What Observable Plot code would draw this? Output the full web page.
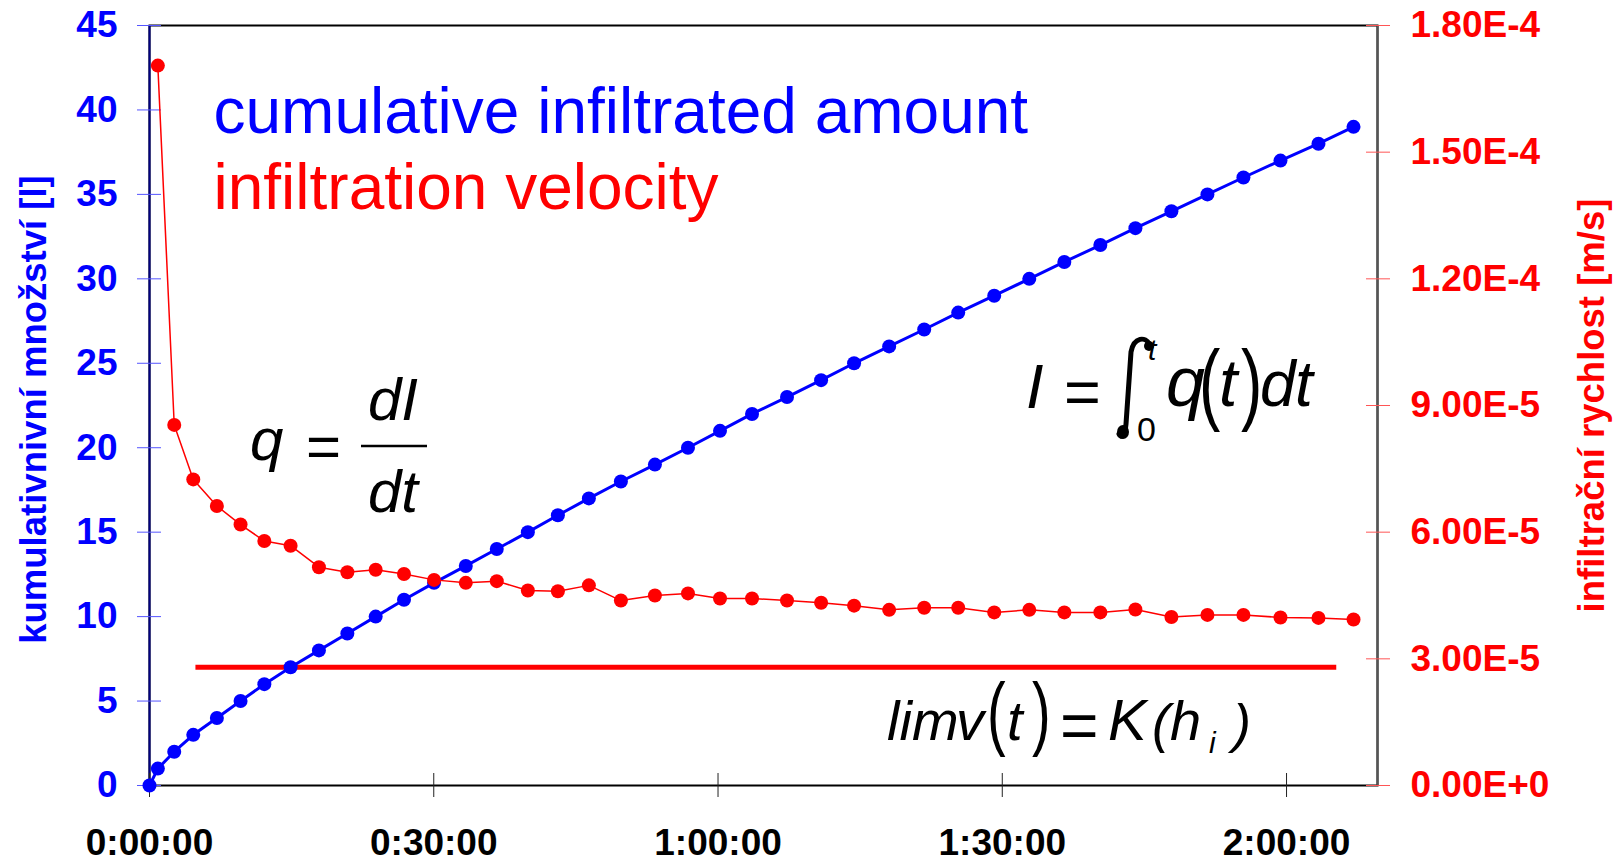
<!DOCTYPE html>
<html>
<head>
<meta charset="utf-8">
<script src="https://cdn.jsdelivr.net/npm/d3@7"></script>
<script src="https://cdn.jsdelivr.net/npm/@observablehq/plot@0.6"></script>
<style>
  html, body { margin: 0; padding: 0; background: #fff; }
  svg { display: block; }
</style>
</head>
<body>
<div id="chart"></div>
<script>
// ---- data (time in minutes since start) ----
const timeMin = [0, 0.88, 2.61, 4.62, 7.11, 9.61, 12.12, 14.89, 17.88, 20.88,
  23.87, 26.86, 30.03, 33.38, 36.65, 39.93, 43.10, 46.37, 49.75, 53.34,
  56.83, 60.21, 63.59, 67.28, 70.88, 74.36, 78.06, 81.76, 85.35, 89.15,
  92.85, 96.55, 100.35, 104.05, 107.85, 111.65, 115.45, 119.36, 123.37, 127.07];
const cumulativeL = [0, 1, 2, 3, 4, 5, 6, 7, 8, 9, 10, 11, 12, 13, 14, 15, 16, 17, 18, 19,
  20, 21, 22, 23, 24, 25, 26, 27, 28, 29, 30, 31, 32, 33, 34, 35, 36, 37, 38, 39];
// velocity [m/s] measured at timeMin[1..39]
const velocity = [1.705e-4, 8.54e-5, 7.25e-5, 6.62e-5, 6.18e-5, 5.79e-5, 5.68e-5, 5.17e-5, 5.05e-5, 5.11e-5,
  5.01e-5, 4.87e-5, 4.80e-5, 4.84e-5, 4.62e-5, 4.60e-5, 4.74e-5, 4.38e-5, 4.50e-5, 4.55e-5,
  4.43e-5, 4.43e-5, 4.38e-5, 4.33e-5, 4.26e-5, 4.16e-5, 4.21e-5, 4.21e-5, 4.10e-5, 4.16e-5,
  4.10e-5, 4.10e-5, 4.17e-5, 3.99e-5, 4.04e-5, 4.04e-5, 3.98e-5, 3.97e-5, 3.93e-5];
const limitK = [2.8e-5];
const limitSpanMin = [4.9, 125.3];

const xTicks = [0, 30, 60, 90, 120];
const xTickLabels = ["0:00:00", "0:30:00", "1:00:00", "1:30:00", "2:00:00"];
const leftTicks = [0, 5, 10, 15, 20, 25, 30, 35, 40, 45];
const rightTicks = [0, 3e-5, 6e-5, 9e-5, 1.2e-4, 1.5e-4, 1.8e-4];
const rightTickLabels = ["0.00E+0", "3.00E-5", "6.00E-5", "9.00E-5", "1.20E-4", "1.50E-4", "1.80E-4"];
const xDomain = [0, 129.6];
const leftDomain = [0, 45];
const rightDomain = [0, 1.8e-4];

// ---- derived ----
const vScale = leftDomain[1] / rightDomain[1];
const blueData = timeMin.map((t, i) => ({t, I: cumulativeL[i]}));
const redData = velocity.map((v, i) => ({t: timeMin[i + 1], v}));
const rightTicksScaled = rightTicks.map(v => v * vScale);

const BLUE = "#0000ff", RED = "#ff0000";
const FONT = "'Liberation Sans', Arial, Helvetica, sans-serif";

// annotation (formula) renderer: pieces of text, fraction bars, paths
function formula(pieces, bars = [], paths = [], blobs = []) {
  return () => {
    const g = d3.create("svg:g").attr("fill", "black").attr("font-family", FONT);
    for (const p of pieces) {
      g.append("text")
        .attr("transform", `translate(${p.x},${p.y}) scale(1,${p.sy || 1})`)
        .attr("font-size", p.s)
        .attr("font-style", p.i ? "italic" : "normal")
        .attr("text-anchor", p.a || "start")
        .text(p.t);
    }
    for (const b of bars) {
      g.append("line").attr("x1", b[0]).attr("x2", b[1]).attr("y1", b[2]).attr("y2", b[2])
        .attr("stroke", "black").attr("stroke-width", 2.5);
    }
    for (const d of paths) {
      g.append("path").attr("d", d).attr("fill", "none").attr("stroke", "black")
        .attr("stroke-width", 5).attr("stroke-linecap", "round");
    }
    for (const c of blobs) {
      g.append("ellipse").attr("cx", c[0]).attr("cy", c[1]).attr("rx", c[2]).attr("ry", c[3]);
    }
    return g.node();
  };
}

const chart = Plot.plot({
  width: 1614,
  height: 860,
  marginLeft: 149,
  marginRight: 237,
  marginTop: 25,
  marginBottom: 75,
  style: {fontFamily: FONT, background: "white", overflow: "visible"},
  x: {domain: xDomain},
  y: {domain: leftDomain},
  marks: [
    Plot.frame({stroke: "black", strokeWidth: 2}),
    Plot.ruleX([xDomain[0]], {stroke: "#000080", strokeWidth: 2}),
    Plot.ruleX([xDomain[1]], {stroke: "#555555", strokeWidth: 2}),
    Plot.axisY({anchor: "left", ticks: leftTicks, tickSize: 24, dx: 12, tickPadding: 20,
      stroke: "#5555ff", fill: BLUE, fontSize: 37, fontWeight: "bold", label: null}),
    Plot.axisY({anchor: "right", ticks: rightTicksScaled, tickSize: 24, dx: -12, tickPadding: 21,
      tickFormat: d => rightTickLabels[rightTicksScaled.indexOf(d)],
      stroke: "#ff5555", fill: RED, fontSize: 37, fontWeight: "bold", label: null}),
    Plot.axisX({anchor: "bottom", ticks: xTicks, tickSize: 24, dy: -12, tickPadding: 31,
      tickFormat: d => xTickLabels[xTicks.indexOf(d)],
      stroke: "#222", fill: "black", fontSize: 37, fontWeight: "bold", label: null}),
    Plot.text(["kumulativnivní množství [l]"], {text: d => d, frameAnchor: "left", dx: -104, dy: 4,
      rotate: -90, lineAnchor: "bottom", textAnchor: "middle", fill: BLUE, fontSize: 36.5, fontWeight: "bold"}),
    Plot.text(["infiltrační rychlost [m/s]"], {text: d => d, frameAnchor: "right", dx: 226, dy: 0,
      rotate: -90, lineAnchor: "bottom", textAnchor: "middle", fill: RED, fontSize: 36.5, fontWeight: "bold"}),
    Plot.text(["cumulative infiltrated amount"], {text: d => d, frameAnchor: "top-left", dx: 64, dy: 107,
      textAnchor: "start", lineAnchor: "bottom", fill: BLUE, fontSize: 64}),
    Plot.text(["infiltration velocity"], {text: d => d, frameAnchor: "top-left", dx: 64, dy: 183,
      textAnchor: "start", lineAnchor: "bottom", fill: RED, fontSize: 64}),
    // limit line
    Plot.ruleY(limitK, {y: d => d * vScale, x1: limitSpanMin[0], x2: limitSpanMin[1], stroke: RED, strokeWidth: 5}),
    // cumulative amount
    Plot.line(blueData, {x: "t", y: "I", stroke: BLUE, strokeWidth: 3}),
    Plot.dot(blueData, {x: "t", y: "I", r: 7, fill: BLUE, stroke: "none"}),
    // infiltration velocity
    Plot.line(redData, {x: "t", y: d => d.v * vScale, stroke: RED, strokeWidth: 1.5}),
    Plot.dot(redData, {x: "t", y: d => d.v * vScale, r: 7, fill: RED, stroke: "none"}),
    // formulas
    formula([
      {t: "q", x: 250, y: 460, s: 60, i: true},
      {t: "=", x: 306, y: 467, s: 60},
      {t: "dI", x: 393, y: 420, s: 60, i: true, a: "middle"},
      {t: "dt", x: 393, y: 512, s: 60, i: true, a: "middle"}
    ], [[361, 427, 446]]),
    formula([
      {t: "I", x: 1026, y: 408, s: 63, i: true},
      {t: "=", x: 1064, y: 414, s: 63},
      {t: "t", x: 1148, y: 360, s: 30, i: true},
      {t: "0", x: 1137, y: 441, s: 34},
      {t: "q", x: 1166, y: 406, s: 70, i: true},
      {t: "(", x: 1199, y: 413, s: 64, sy: 1.4},
      {t: "t", x: 1219, y: 406, s: 66, i: true},
      {t: ")", x: 1241, y: 413, s: 64, sy: 1.4},
      {t: "d", x: 1260, y: 406, s: 64, i: true},
      {t: "t", x: 1295, y: 406, s: 64, i: true}
    ], [], [
      "M1149,344 C1146,337 1134,336 1131,352 L1126,424 C1125,436 1121,439 1119,434"
    ], [[1149, 346, 5, 5], [1123, 432, 6, 7]]),
    formula([
      {t: "lim", x: 887, y: 740, s: 56, i: true},
      {t: "v", x: 956, y: 740, s: 56, i: true},
      {t: "(", x: 987, y: 739.5, s: 56, sy: 1.46},
      {t: "t", x: 1007, y: 740, s: 56, i: true},
      {t: ")", x: 1032, y: 739.5, s: 56, sy: 1.46},
      {t: "=", x: 1060, y: 748, s: 66},
      {t: "K", x: 1108, y: 740, s: 58, i: true},
      {t: "(", x: 1152, y: 742, s: 54, i: true},
      {t: "h", x: 1170, y: 740, s: 56, i: true},
      {t: "i", x: 1209, y: 753, s: 30, i: true},
      {t: ")", x: 1233, y: 742, s: 54, i: true}
    ])
  ]
});
document.getElementById("chart").appendChild(chart);
</script>
</body>
</html>
